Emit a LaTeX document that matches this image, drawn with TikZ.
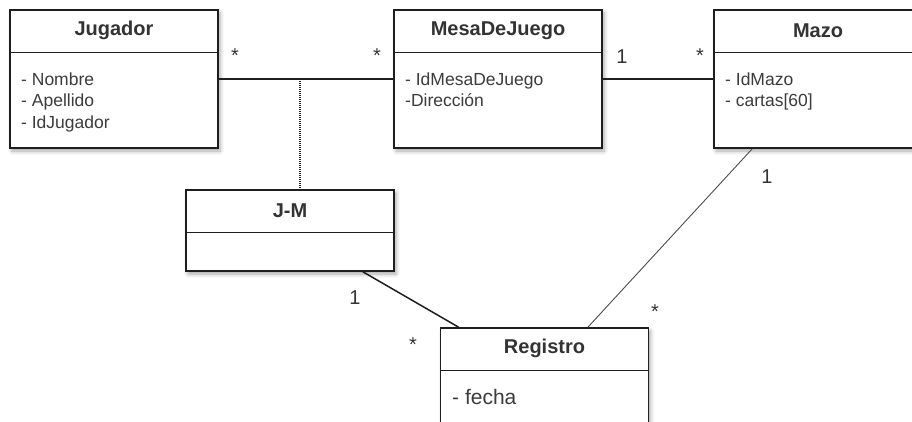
\documentclass[tikz,border=0pt]{standalone}
\usepackage{fontspec}
\setmainfont{Liberation Sans}
\usepackage{tikz}
\usetikzlibrary{shadows.blur}

\definecolor{linegray}{HTML}{1E1E1E}
\definecolor{titlegray}{HTML}{333333}
\definecolor{attrgray}{HTML}{3C3C3C}

\tikzset{
  classbox/.style={draw=linegray, line width=1.4pt, fill=white, minimum width=208pt, inner sep=0pt,
    blur shadow={shadow xshift=2pt, shadow yshift=-3pt, shadow blur radius=4pt, shadow opacity=35}},
  divider/.style={linegray, line width=1.4pt},
  classname/.style={font=\fontsize{20}{23}\selectfont\bfseries, text=titlegray, inner sep=0pt},
  attr/.style={anchor=base west, inner sep=0pt, font=\fontsize{17.5}{20}\selectfont, text=attrgray},
  mult/.style={font=\fontsize{20}{22}\selectfont, text=titlegray, inner sep=0pt},
  assoc/.style={linegray, line width=1.3pt}
}

\begin{document}
\begin{tikzpicture}[x=1pt,y=-1pt]
  \useasboundingbox (0,0) rectangle (912,422);
  \clip (0,0) rectangle (912,422);

  % clases
  \node[classbox, minimum height=138pt] (jugador) at (114,79) {};
  \draw[divider] ([yshift=-43pt]jugador.north west) -- ([yshift=-43pt]jugador.north east);
  \node[classname] (jugador-t) at ([yshift=-21.5pt]jugador.north) {Jugador};
  \foreach \txt [count=\i] in {- Nombre, - Apellido, - IdJugador}
    \node[attr] (jugador-a\i) at (21,64+21.5*\i) {\txt};

  \node[classbox, minimum height=138pt] (mesa) at (498,79) {};
  \draw[divider] ([yshift=-43pt]mesa.north west) -- ([yshift=-43pt]mesa.north east);
  \node[classname] (mesa-t) at ([yshift=-21.5pt]mesa.north) {MesaDeJuego};
  \foreach \txt [count=\i] in {- IdMesaDeJuego, -Dirección}
    \node[attr] (mesa-a\i) at (405,64+21.5*\i) {\txt};

  \node[classbox, minimum height=138pt] (mazo) at (818,79) {};
  \draw[divider] ([yshift=-43pt]mazo.north west) -- ([yshift=-43pt]mazo.north east);
  \node[classname] (mazo-t) at ([yshift=-21.5pt]mazo.north) {Mazo};
  \foreach \txt [count=\i] in {- IdMazo, - cartas[60]}
    \node[attr] (mazo-a\i) at (725,64+21.5*\i) {\txt};

  \node[classbox, minimum height=81pt] (jm) at (290,230.5) {};
  \draw[divider] ([yshift=-43pt]jm.north west) -- ([yshift=-43pt]jm.north east);
  \node[classname] (jm-t) at ([yshift=-21.5pt]jm.north) {J-M};

  \node[classbox, minimum height=132pt] (registro) at (544.5,394) {};
  \draw[divider] ([yshift=-43pt]registro.north west) -- ([yshift=-43pt]registro.north east);
  \node[classname] (registro-t) at ([yshift=-21.5pt]registro.north) {Registro};
  \node[attr, font=\fontsize{21}{23}\selectfont] (registro-a1) at (452,404) {- fecha};

  % asociaciones
  \coordinate (jm-link) at (300,79);
  \draw[assoc] (jugador.east) -- (mesa.west);
  \draw[assoc] (mesa.east) -- (mazo.west);
  \draw[assoc, line width=1.2pt, dash pattern=on 1pt off 1pt] (jm-link) -- (jm-link |- jm.north);
  \draw[assoc, line width=1.5pt] ([xshift=-32pt]jm.south east) -- ([xshift=19pt]registro.north west);
  \draw[assoc, line width=0.9pt, draw=black!70] ([xshift=39pt]mazo.south west) -- ([xshift=148pt]registro.north west);

  % multiplicidades
  \node[mult] (m-jug) at (235,56) {*};
  \node[mult] (m-mesa-l) at (377,56) {*};
  \node[mult] (m-mesa-r) at (622,57) {1};
  \node[mult] (m-mazo-l) at (700,56) {*};
  \node[mult] (m-mazo-b) at (767,177) {1};
  \node[mult] (m-jm) at (355,298) {1};
  \node[mult] (m-reg-l) at (413,345) {*};
  \node[mult] (m-reg-r) at (655,312) {*};
\end{tikzpicture}
\end{document}
